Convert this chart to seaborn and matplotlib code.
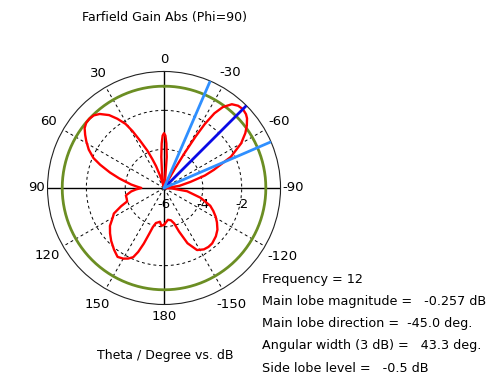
import numpy as np
import seaborn as sns
import matplotlib
matplotlib.use("Agg")
import matplotlib.pyplot as plt

# farfield cut, theta in degrees (0 = up, positive to the left), gain in dB
theta_deg = [-180, -173, -168, -164, -161, -157, -152, -147, -143, -139, -133, -128,
             -123, -119, -115, -111, -105, -98, -93, -90, -86, -82, -77, -73, -70,
             -65, -60, -56, -53, -50, -48, -45, -42, -39, -36, -34, -32.5, -31.5,
             -30.5, -29.5, -28, -25, -20, -15, -10, -7, -5, -3, -1.5, 0, 1.5, 3, 5,
             7, 9, 11, 14, 16, 18, 20, 22, 24, 27, 29, 31, 34, 37, 41, 44, 47, 50,
             53, 56, 59, 63, 67, 70, 74, 78, 81, 84, 87, 90, 93, 96, 101, 106, 110,
             113, 117, 120, 125, 130, 135, 141, 146, 150, 153, 156, 158, 160, 162,
             164, 167, 170, 173, 176, 180]
gain_db = [-4.10, -4.35, -4.30, -4.10, -3.63, -2.91, -2.38, -2.23, -2.20, -2.22, -2.35,
           -2.51, -2.75, -2.96, -3.20, -3.45, -4.05, -4.80, -5.60, -6.0, -5.80, -5.20,
           -4.60, -3.80, -3.27, -2.20, -1.42, -0.95, -0.66, -0.42, -0.32, -0.257, -0.30,
           -0.45, -0.85, -1.36, -2.10, -2.90, -3.90, -4.80, -5.50, -6.0, -6.0, -6.0,
           -6.0, -5.50, -4.40, -3.70, -3.30, -3.18, -3.30, -3.70, -4.40, -5.10, -5.60,
           -5.85, -5.90, -5.70, -5.30, -4.80, -4.40, -3.90, -3.23, -2.65, -2.15, -1.70,
           -1.30, -0.95, -0.80, -0.757, -0.77, -0.88, -1.10, -1.33, -1.65, -2.05, -2.50,
           -3.10, -3.65, -4.03, -4.30, -4.60, -4.83, -4.55, -4.30, -4.00, -4.00, -3.98,
           -3.60, -3.10, -2.95, -2.60, -2.37, -2.15, -1.91, -1.72, -1.80, -1.92, -2.10,
           -2.45, -2.95, -3.50, -3.90, -4.15, -4.20, -4.25, -4.05, -4.10]

frequency = 12
main_lobe_mag = -0.257
main_lobe_dir = -45.0
angular_width = 43.3
side_lobe_level = -0.5

r_min, r_max = -6, 0
r_ticks = [-6, -4, -2]
theta_ticks = [0, 30, 60, 90, 120, 150, 180, 210, 240, 270, 300, 330]
theta_labels = ["0", "30", "60", "90", "120", "150", "180", "-150", "-120", "-90", "-60", "-30"]
# distance of each angle label from the centre, in pixels
label_dist = [128, 132, 133, 128, 135, 134, 129, 134.5, 137, 129.5, 133, 133]

sns.set_style("white")
plt.rcParams["font.family"] = ["DejaVu Sans"]
plt.rcParams["text.color"] = "black"

fig = plt.figure(figsize=(4.96, 3.80), dpi=100)
ax = fig.add_axes([0.0958, 0.1987, 0.4698, 0.6132], projection="polar")
ax.set_theta_zero_location("N")
ax.set_theta_direction(1)
ax.set_ylim(r_min, r_max)

ax.set_xticks(np.deg2rad(theta_ticks))
ax.set_xticklabels([])
ax.set_yticks([-4, -2])
ax.set_yticklabels([])
ax.grid(True, color="black", linestyle=(0, (3, 3)), linewidth=0.7)
ax.spines["polar"].set_color("#222222")
ax.spines["polar"].set_linewidth(0.8)

ax_px = 233.0
for t, lab, d in zip(theta_ticks, theta_labels, label_dist):
    a = np.deg2rad(t)
    ax.text(0.5 - d / ax_px * np.sin(a), 0.5 + d / ax_px * np.cos(a), lab,
            transform=ax.transAxes, ha="center", va="center", fontsize=9.5)

# solid main axes
for a in [0, 90, 180, 270]:
    ax.axvline(np.deg2rad(a), color="black", linewidth=1.0, zorder=2)

# side lobe level circle
circle_t = np.linspace(0, 2 * np.pi, 361)
ax.plot(circle_t, np.full_like(circle_t, main_lobe_mag + side_lobe_level),
        color="#6b8e23", linewidth=2, zorder=3)

sns.lineplot(x=np.deg2rad(theta_deg), y=gain_db, ax=ax, color="red", linewidth=1.7,
             sort=False, estimator=None, zorder=4)
ax.set_xlabel("")
ax.set_ylabel("")

# main lobe direction and 3 dB width
ax.axvline(np.deg2rad(main_lobe_dir), color="#0a0ae6", linewidth=2, zorder=5)
for d in [main_lobe_dir - angular_width / 2, main_lobe_dir + angular_width / 2]:
    ax.axvline(np.deg2rad(d), color="#2f8fff", linewidth=2, zorder=5)

for r in r_ticks:
    ax.annotate(str(r), xy=(np.deg2rad(-90), r), xytext=(0, -17),
                textcoords="offset pixels", ha="center", va="center", fontsize=9.5)

fig.text(164 / 496, 1 - 17 / 380, "Farfield Gain Abs (Phi=90)", ha="center", va="center",
         fontsize=9)
fig.text(165 / 496, 1 - 355 / 380, "Theta / Degree vs. dB", ha="center", va="center",
         fontsize=9)

info = [
    f"Frequency = {frequency}",
    f"Main lobe magnitude =   {main_lobe_mag} dB",
    f"Main lobe direction =  {main_lobe_dir} deg.",
    f"Angular width (3 dB) =   {angular_width} deg.",
    f"Side lobe level =   {side_lobe_level} dB",
]
for i, line in enumerate(info):
    fig.text(262 / 496, 1 - (279 + 22.3 * i) / 380, line, ha="left", va="center",
             fontsize=9.2)

fig.savefig("out.png", dpi=100)
